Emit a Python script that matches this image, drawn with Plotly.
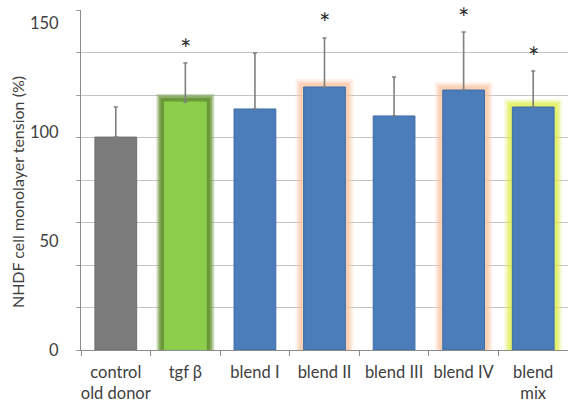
import plotly.graph_objects as go

# Monolayer tension of NHDF cells, normalised to the old-donor control
categories = ["control<br>old donor", "tgf β", "blend I", "blend II",
              "blend III", "blend IV", "blend<br>mix"]
tension = [97.7, 113.8, 110.6, 120.7, 107.4, 119.3, 111.5]
tension_sd = [13.8, 17.9, 25.7, 22.5, 17.9, 26.6, 16.5]
significant = [False, True, False, True, False, True, True]
y_tick_values = [0, 50, 100, 150]

# Styling per bar
fill_colors = ["#7b7b7b", "#8ccd4b", "#4a7dba", "#4a7dba", "#4a7dba", "#4a7dba", "#4a7dba"]
edge_colors = ["#6f6f6f", "#8ccd4b", "#3d6ca6", "#3d6ca6", "#3d6ca6", "#3d6ca6", "#3d6ca6"]
NONE = "rgba(0,0,0,0)"
glow_rgb = [None, (104, 150, 55), None, (249, 196, 160), None, (249, 196, 160), (222, 236, 70)]

BAR_W = 0.6
fig = go.Figure()

# soft halo around highlighted bars, built from a few translucent outlines
for lw, alpha in [(16, 0.22), (12, 0.35), (8, 0.55)]:
    cols = []
    for c in glow_rgb:
        if c is None:
            cols.append(NONE)
        else:
            a = alpha if c != (104, 150, 55) else min(1.0, alpha * 1.7)
            cols.append(f"rgba({c[0]},{c[1]},{c[2]},{a})")
    fig.add_trace(go.Bar(
        x=categories, y=tension, width=BAR_W,
        marker=dict(color=NONE, line=dict(color=cols, width=lw)),
        hoverinfo="skip", showlegend=False,
    ))

# the bars themselves with upper standard-deviation whiskers
fig.add_trace(go.Bar(
    x=categories, y=tension, width=BAR_W,
    marker=dict(color=fill_colors, line=dict(color=edge_colors, width=1)),
    error_y=dict(type="data", array=tension_sd, arrayminus=[0] * len(tension_sd),
                 symmetric=False, color="#7f7f7f", thickness=1.6, width=2),
    showlegend=False,
))

# significance markers above the whiskers
for cat, v, e, s in zip(categories, tension, tension_sd, significant):
    if s:
        fig.add_annotation(x=cat, y=v + e, text="*", showarrow=False,
                           yshift=15, font=dict(size=27, color="#2b2b2b",
                                                family="Lato"))

# y-axis title, placed as a rotated annotation
fig.add_annotation(text="NHDF cell monolayer tension (%)", textangle=-90,
                   xref="paper", yref="paper", x=-0.129, y=0.465,
                   xanchor="center", yanchor="middle", showarrow=False,
                   font=dict(size=16, color="#404040", family="Lato"))

fig.update_layout(
    width=568, height=403,
    margin=dict(l=81, r=0, t=10, b=53, autoexpand=False),
    paper_bgcolor="white", plot_bgcolor="white",
    barmode="overlay",
    font=dict(family="Lato", size=16, color="#404040"),
    xaxis=dict(
        type="category", showgrid=False, showline=True, automargin=False,
        linecolor="#8c8c8c", linewidth=1, tickangle=0,
        ticks="outside", tickson="boundaries", ticklen=5,
        tickcolor="#8c8c8c", ticklabelstandoff=7,
        tickfont=dict(size=16.5, color="#404040"),
    ),
    yaxis=dict(
        range=[0, 156.02], showgrid=False, zeroline=False, automargin=False,
        showline=True, linecolor="#8c8c8c", linewidth=1,
        tickvals=y_tick_values, ticks="", ticklabelstandoff=18,
        tickfont=dict(size=16.5, color="#404040"),
        minor=dict(dtick=19.5, tick0=0, showgrid=True,
                   gridcolor="#c4c4c4", gridwidth=1.3,
                   ticks="outside", ticklen=4, tickcolor="#a0a0a0"),
    ),
)

fig.write_html("out.html")
